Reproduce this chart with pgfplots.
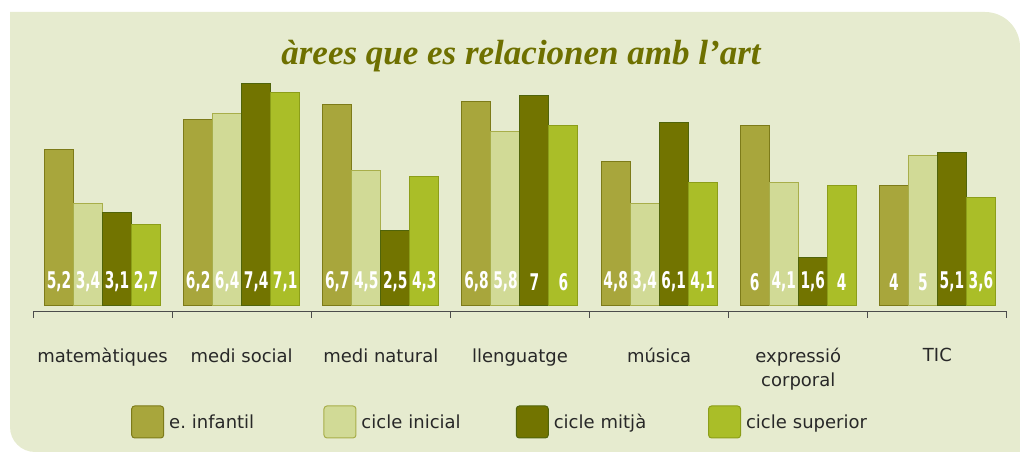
\documentclass[border=0pt]{standalone}
\usepackage{fontspec}
\setmainfont{DejaVu Sans}
\newfontfamily\titlefont{Liberation Serif}
\newfontfamily\valfont[FakeStretch=0.6]{DejaVu Sans}
\usepackage{pgfplots}
\pgfplotsset{compat=1.18}
\definecolor{bgc}{RGB}{230,235,207}
\definecolor{cinf}{RGB}{168,166,60}
\definecolor{cini}{RGB}{209,218,150}
\definecolor{cmit}{RGB}{114,116,0}
\definecolor{csup}{RGB}{170,190,40}
\definecolor{binf}{RGB}{125,123,25}
\definecolor{bini}{RGB}{168,174,74}
\definecolor{bmit}{RGB}{80,100,10}
\definecolor{bsup}{RGB}{140,158,25}
\definecolor{titc}{RGB}{110,112,0}
\definecolor{txt}{RGB}{40,40,40}
\begin{document}
\begin{tikzpicture}
\useasboundingbox (0pt,0pt) rectangle (1020pt,452pt);
\fill[bgc] (10pt,440pt) -- (985pt,440pt) arc[start angle=90,end angle=0,radius=35pt] -- (1020pt,0pt) -- (35pt,0pt) arc[start angle=270,end angle=180,radius=25pt] -- cycle;
\node[font=\titlefont\bfseries\itshape\fontsize{35}{38}\selectfont, text=titc] at (521pt,396pt) {àrees que es relacionen amb l’art};
\begin{axis}[
  at={(33pt,140pt)}, anchor=south west,
  x=139.14pt, y=30pt,
  xmin=-0.5, xmax=6.5, ymin=-0.2, ymax=7.6,
  axis x line*=bottom, axis y line=none,
  axis line style={draw=black!70, line width=1pt},
  ybar, bar width=29pt,
  xtick={0,...,6},
  xticklabels={matemàtiques,medi social,medi natural,llenguatge,música,expressió\\corporal,TIC},
  major tick length=0pt,
  minor xtick={-0.5,0.5,...,6.5},
  minor tick length=6pt, tick align=outside,
  minor tick style={draw=black!70, line width=1pt},
  xticklabel style={align=center, text=txt, font=\fontsize{18}{24}\selectfont, yshift=-33pt},
  visualization depends on={y \as \rawy},
  nodes near coords={\valfont\bfseries\fontsize{23}{24}\selectfont\pgfmathprintnumber[use comma, assume math mode=true]{\pgfplotspointmeta}},
  every node near coord/.append style={anchor=center, text=white, yshift={24pt-\rawy*30pt}},
  legend columns=4,
  legend cell align=left,
  legend image code/.code={\draw[#1, line width=1pt, rounded corners=3pt] (0pt,-16pt) rectangle (32pt,16pt);},
  legend style={draw=none, fill=none, inner sep=0pt, at={(0.1006,-0.470)}, anchor=west,
    font=\fontsize{18}{20}\selectfont, text=txt,
    nodes={text width=149.3pt, align=left, inner xsep=5pt, inner ysep=3pt}},
]
\addplot[fill=cinf, draw=binf, line width=1pt, bar shift=-43.5pt] coordinates {(0,5.2) (1,6.2) (2,6.7) (3,6.8) (4,4.8) (5,6) (6,4)};
\addplot[fill=cini, draw=bini, line width=1pt, bar shift=-14.5pt] coordinates {(0,3.4) (1,6.4) (2,4.5) (3,5.8) (4,3.4) (5,4.1) (6,5)};
\addplot[fill=cmit, draw=bmit, line width=1pt, bar shift=14.5pt] coordinates {(0,3.1) (1,7.4) (2,2.5) (3,7) (4,6.1) (5,1.6) (6,5.1)};
\addplot[fill=csup, draw=bsup, line width=1pt, bar shift=43.5pt] coordinates {(0,2.7) (1,7.1) (2,4.3) (3,6) (4,4.1) (5,4) (6,3.6)};
\legend{e.\ infantil, cicle inicial, cicle mitjà, cicle superior}
\end{axis}
\end{tikzpicture}
\end{document}
